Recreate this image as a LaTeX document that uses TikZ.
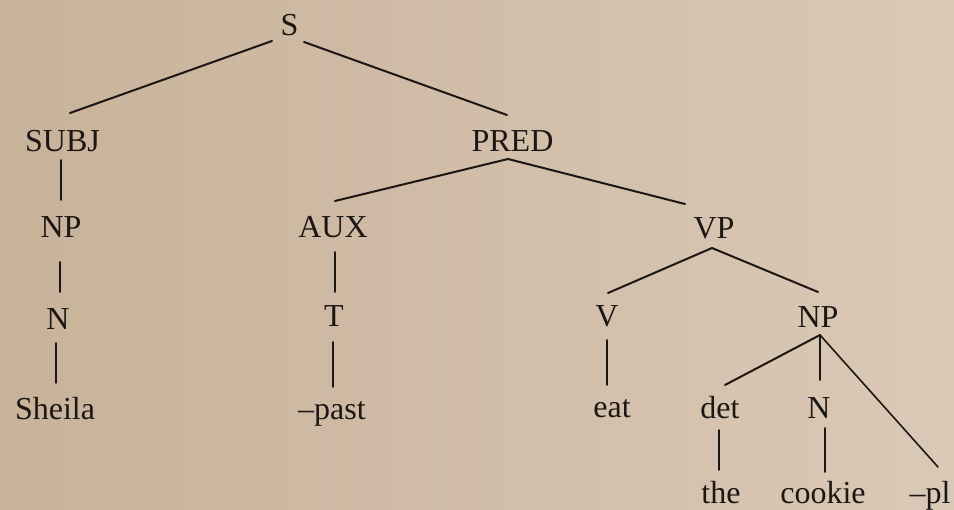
\documentclass[tikz,border=0pt]{standalone}
\usepackage{fontspec}
\setmainfont{Liberation Serif}
\usetikzlibrary{calc}
\definecolor{paperL}{RGB}{200,178,154}
\definecolor{paperR}{RGB}{218,201,182}
\definecolor{ink}{RGB}{28,23,19}
\tikzset{
  lbl/.style={anchor=base, inner sep=0pt, text=ink, font=\fontsize{32}{36}\selectfont},
  edge/.style={draw=ink, line width=2pt, line cap=round},
  stem/.style={draw=ink, line width=1.6pt, line cap=round}
}
\begin{document}
\begin{tikzpicture}[x=1pt,y=-1pt]
\shade[left color=paperL, right color=paperR] (0,0) rectangle (954,510);
\useasboundingbox (0,0) rectangle (954,510);
% nodes
\node[lbl] (S) at (289.5,36) {S};
\node[lbl] (SUBJ) at (62.5,152) {SUBJ};
\node[lbl] (PRED) at (512.5,152) {PRED};
\node[lbl] (NPa) at (61,238) {NP};
\node[lbl] (AUX) at (333,238) {AUX};
\node[lbl] (VP) at (714,239) {VP};
\node[lbl] (Na) at (58,330) {N};
\node[lbl] (T) at (334,327) {T};
\node[lbl] (V) at (607,327) {V};
\node[lbl] (NPb) at (818,328) {NP};
\node[lbl] (Sheila) at (55,420) {Sheila};
\node[lbl] (past) at (332,420) {--past};
\node[lbl] (eat) at (612,418) {eat};
\node[lbl] (det) at (720,419) {det};
\node[lbl] (Nb) at (819,419) {N};
\node[lbl] (the) at (721,504) {the};
\node[lbl] (cookie) at (823,504) {cookie};
\node[lbl] (pl) at (930,504) {--pl};
% connectors
\draw[edge] ($(S.base)+(-17.5,5)$) -- ($(SUBJ.base)+(7.5,-39)$);
\draw[edge] ($(S.base)+(14.5,6)$) -- ($(PRED.base)+(-5.5,-37)$);
\draw[stem] ($(SUBJ.base)+(-1.5,8)$) -- ($(NPa.base)+(0,-38)$);
\draw[stem] ($(NPa.base)+(-1,24)$) -- ($(Na.base)+(2,-38)$);
\draw[stem] ($(Na.base)+(-2,13)$) -- ($(Sheila.base)+(1,-37)$);
\draw[edge] ($(PRED.base)+(-4.5,7)$) -- ($(AUX.base)+(2,-37)$);
\draw[edge] ($(PRED.base)+(-4.5,7)$) -- ($(VP.base)+(-29,-35)$);
\draw[stem] ($(AUX.base)+(2,14)$) -- ($(T.base)+(1,-35)$);
\draw[stem] ($(T.base)+(-1,15)$) -- ($(past.base)+(1,-33)$);
\draw[edge] ($(VP.base)+(-2,9)$) -- ($(V.base)+(1,-34)$);
\draw[edge] ($(VP.base)+(-2,9)$) -- ($(NPb.base)+(0,-36)$);
\draw[stem] ($(V.base)+(0,13)$) -- ($(eat.base)+(-5,-33)$);
\draw[edge] ($(NPb.base)+(2,7)$) -- ($(det.base)+(5,-34)$);
\draw[stem] ($(NPb.base)+(2,7)$) -- ($(Nb.base)+(1,-39)$);
\draw[stem] ($(NPb.base)+(2,7)$) -- ($(pl.base)+(8,-37)$);
\draw[stem] ($(det.base)+(-1,11)$) -- ($(the.base)+(-2,-34)$);
\draw[stem] ($(Nb.base)+(6,9)$) -- ($(cookie.base)+(2,-32)$);
\end{tikzpicture}
\end{document}
